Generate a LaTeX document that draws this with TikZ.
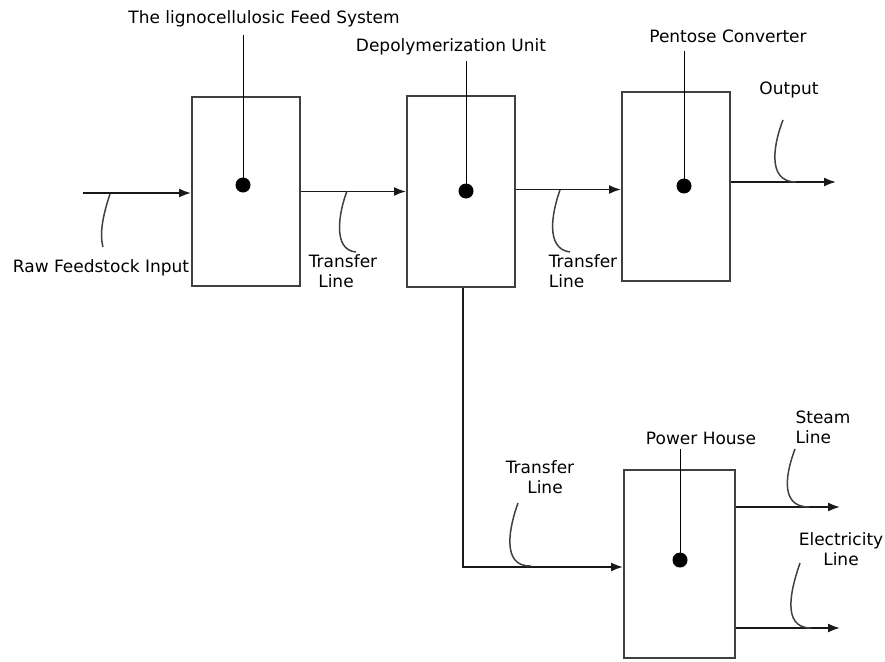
\documentclass[tikz,border=0pt]{standalone}
\usepackage{fontspec}
\setmainfont{DejaVu Sans}
\usetikzlibrary{arrows.meta,positioning}

\tikzset{
  unit/.style={draw=black!75,line width=2pt,minimum width=108pt,inner sep=0pt},
  lbl/.style={font=\fontsize{17}{20}\selectfont,inner sep=1pt},
  flow/.style={line width=1.8pt,black!90,-{Latex[length=12pt,width=9pt]}},
  hook/.style={line width=1.5pt,black!75},
  dot/.style={circle,fill=black,minimum size=15pt,inner sep=0pt},
}

\begin{document}
\begin{tikzpicture}[x=1pt,y=-1pt]
  \useasboundingbox (0,0) rectangle (885,661);

  % process units
  \node[unit,minimum height=189pt] (feed) at (246,191.5) {};
  \node[unit,minimum height=191pt] (depol) at (461,191.5) {};
  \node[unit,minimum height=189pt] (pent) at (676,186.5) {};
  \node[unit,minimum width=111pt,minimum height=188pt] (power) at (679.5,564) {};

  \node[dot] (feeddot) at (243,185) {};
  \node[dot] (depoldot) at (466,191) {};
  \node[dot] (pentdot) at (684,186) {};
  \node[dot] (powerdot) at (680,560) {};

  % unit names
  \node[lbl] (feedlbl) at (264,19) {The lignocellulosic Feed System};
  \node[lbl] (depollbl) at (451,47) {Depolymerization Unit};
  \node[lbl] (pentlbl) at (728,36) {Pentose Converter};
  \node[lbl] (powerlbl) at (701,438) {Power House};
  \draw[line width=0.9pt] (feeddot.center) -- ([yshift=-7pt]feeddot |- feedlbl.south);
  \draw[line width=0.9pt] (depoldot.center) -- ([yshift=-5pt]depoldot |- depollbl.south);
  \draw[line width=0.9pt] (pentdot.center) -- ([yshift=-7pt]pentdot |- pentlbl.south);
  \draw[line width=0.9pt] (powerdot.center) -- ([yshift=-3pt]powerdot |- powerlbl.south);

  % stream labels
  \node[lbl] (rawlbl) at (101,268) {Raw Feedstock Input};
  \node[lbl,align=center] (trans1) at (343,271) {Transfer\\\hspace*{-14pt}Line};
  \node[lbl,align=left] (trans2) at (583,271) {Transfer\\Line};
  \node[lbl,align=center] (trans3) at (540,477) {Transfer\\\hspace*{10pt}Line};
  \node[lbl] (outlbl) at (789,90) {Output};
  \node[lbl,align=left] (steamlbl) at (823,427) {Steam\\Line};
  \node[lbl,align=center] (eleclbl) at (841,549) {Electricity\\Line};

  % streams
  \coordinate (rawin) at (83,193);
  \coordinate (outend) at (836,182);
  \coordinate (steamend) at (840,507);
  \coordinate (elecend) at (840,628);
  \draw[flow] (rawin) -- (feed.west |- rawin);
  \draw[flow] (feed.east) -- (depol.west);
  \draw[flow] ([yshift=2pt]depol.east) -- ([yshift=2pt]depol.east -| pent.west);
  \draw[flow] (pent.east |- outend) -- (outend);
  \draw[flow] ([xshift=2pt]depol.south) |- ([yshift=-3pt]power.west);
  \draw[flow] (power.east |- steamend) -- (steamend);
  \draw[flow] (power.east |- elecend) -- (elecend);

  % label hooks
  \draw[hook] (110,194) .. controls (104,212) and (99,232) .. (103,247);
  \draw[hook] (347,191) .. controls (339,212) and (332,250) .. (356,252);
  \draw[hook] (560,190) .. controls (552,212) and (545,249) .. (570,252);
  \draw[hook] (783,120) .. controls (775,140) and (765,182) .. (796,182);
  \draw[hook] (518,503) .. controls (510,525) and (500,567) .. (531,566);
  \draw[hook] (795,449) .. controls (787,470) and (778,507) .. (809,507);
  \draw[hook] (800,563) .. controls (792,586) and (780,628) .. (811,628);
\end{tikzpicture}
\end{document}
